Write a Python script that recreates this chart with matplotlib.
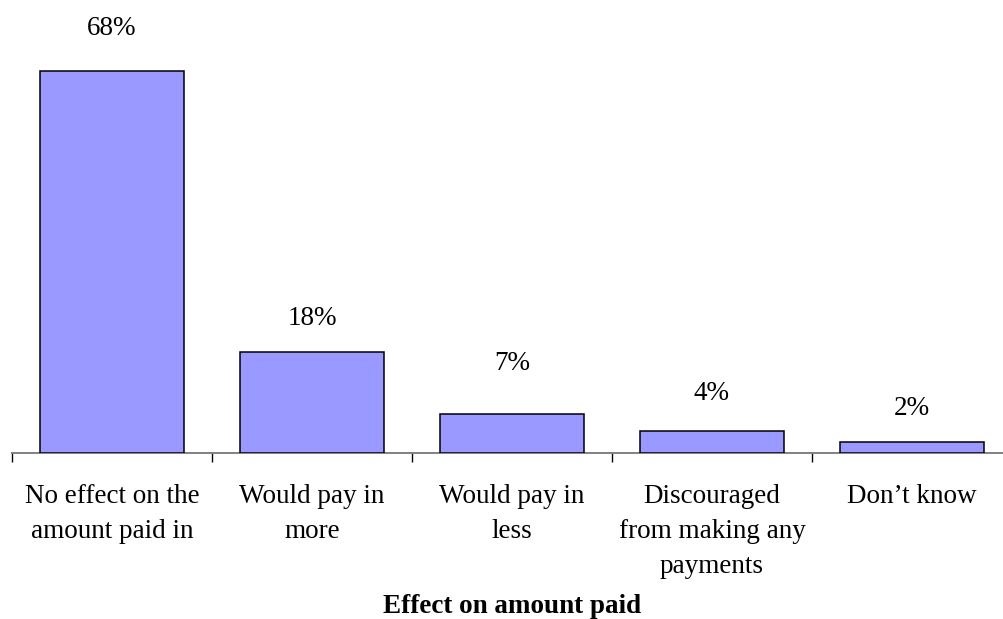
import matplotlib
matplotlib.use('Agg')
import matplotlib.pyplot as plt

categories = ["No effect on the\namount paid in", "Would pay in\nmore", "Would pay in\nless",
              "Discouraged\nfrom making any\npayments", "Don\u2019t know"]
values = [68, 18, 7, 4, 2]
value_labels = ["68%", "18%", "7%", "4%", "2%"]
x_title = "Effect on amount paid"

# label baseline offsets above bar tops (pixels), as seen in the reference
label_offsets_px = [36, 27, 44, 31, 27]

plt.rcParams['font.family'] = ['Liberation Serif', 'DejaVu Serif']
FS = 19.5

W, H = 1004, 619
fig = plt.figure(figsize=(W / 100, H / 100), dpi=100)
px_per_unit = 5.627
ymax = 70
ax = fig.add_axes([12 / W, 1 - 453.3 / H, 1000 / W, ymax * px_per_unit / H])

xs = list(range(len(values)))
ax.bar(xs, values, width=0.72, color='#9999FF', edgecolor='#000000', linewidth=1.1, zorder=3)
ax.set_xlim(-0.5, len(values) - 0.5)
ax.set_ylim(0, ymax)

for s in ['left', 'top', 'right']:
    ax.spines[s].set_visible(False)
ax.spines['bottom'].set_color('#808080')
ax.spines['bottom'].set_linewidth(1.4)
ax.set_yticks([])

ax.set_xticks([i - 0.5 for i in range(len(values) + 1)])
ax.set_xticklabels([])
ax.tick_params(axis='x', which='major', direction='out', length=6.5, width=1.0, color='#000000')
ax.set_xticks(xs, minor=True)
ax.set_xticklabels(categories, minor=True, fontsize=FS, linespacing=1.52)
ax.tick_params(axis='x', which='minor', length=0, pad=22)

for x, v, lab, off in zip(xs, values, value_labels, label_offsets_px):
    ax.annotate(lab, xy=(x, v), xytext=(0, off * 0.72), textcoords='offset points',
                ha='center', va='baseline', fontsize=FS)

ax.set_xlabel(x_title, fontsize=FS, fontweight='bold')
ax.xaxis.set_label_coords(0.5, -(613 - 453.3) / (ymax * px_per_unit))
ax.xaxis.label.set_va('baseline')

fig.savefig('out.png', dpi=100)
